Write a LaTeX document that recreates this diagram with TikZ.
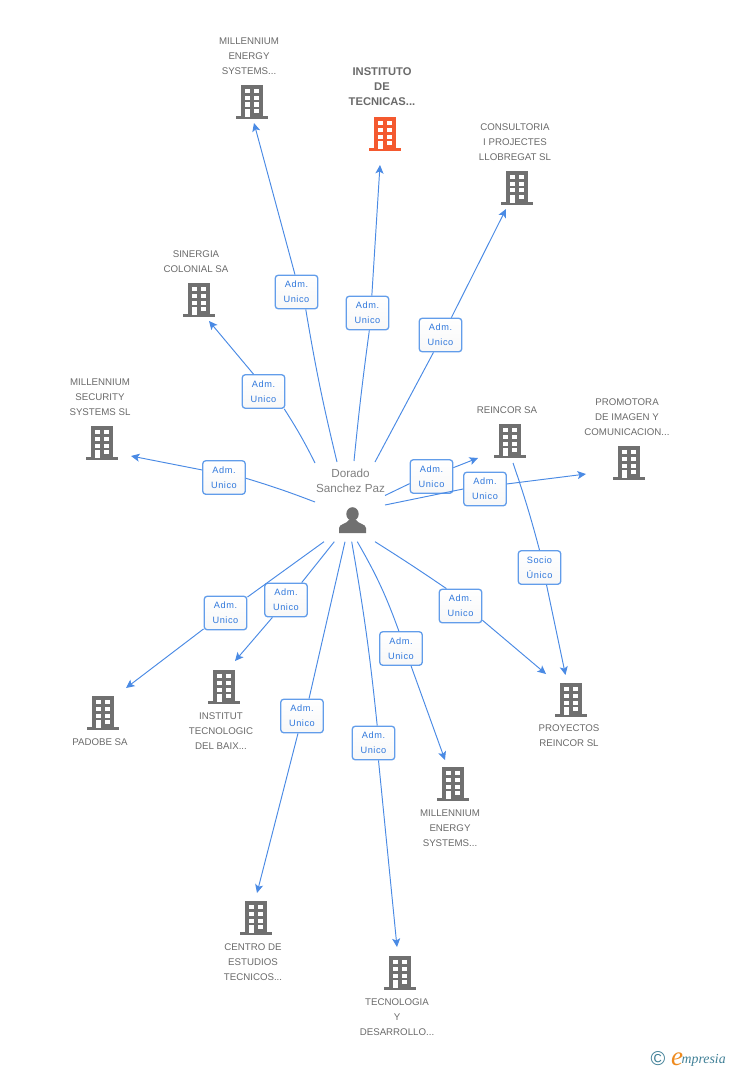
\documentclass[tikz,border=0pt]{standalone}
\usepackage{fontspec}
\setmainfont{Liberation Sans}
\newfontfamily\logofont{Liberation Serif}
\usetikzlibrary{arrows.meta}
\definecolor{linkblue}{HTML}{4A8AE4}
\definecolor{boxblue}{HTML}{629DEA}
\definecolor{textblue}{HTML}{3078DC}
\definecolor{icongray}{HTML}{707070}
\definecolor{icontarget}{HTML}{F4592F}
\definecolor{namegray}{HTML}{6A6A6A}
\definecolor{logoteal}{HTML}{3F7F96}
\definecolor{logoorange}{HTML}{EE8A1E}
\tikzset{
  link/.style={linkblue,line width=0.95pt},
  linkto/.style={link,-{Stealth[length=8.5pt,width=8pt,inset=2pt]}},
  admbox/.style={draw=boxblue,line width=1.3pt,rounded corners=3pt,top color=white,bottom color=gray!6,
    minimum width=42.5pt,minimum height=33.5pt,inner sep=0pt,align=center,text=textblue,
    font={\fontsize{9.2}{15}\selectfont\addfontfeature{LetterSpace=6}}},
  companyname/.style={align=center,text=namegray,font={\fontsize{9.7}{15}\selectfont}},
  personname/.style={align=center,text=gray,font={\fontsize{11.7}{15}\selectfont}},
  pics/building/.style={code={
    \fill[#1] (-11,-17) rectangle (11,17);
    \fill[#1] (-16,14) rectangle (16,17);
    \foreach \yy in {-13,-6,0.5}{
      \fill[white] (-7.2,\yy) rectangle (-2.2,\yy+4.3);
      \fill[white] (2.2,\yy) rectangle (7.2,\yy+4.3);
    }
    \fill[white] (-7.2,7) rectangle (-2.2,15);
    \fill[white] (2.2,7) rectangle (7.2,11.3);
  }},
  pics/person/.style={code={
    \fill[icongray] (0,-7) circle (6.2 and 6.8);
    \fill[icongray] (-13.5,12) -- (-13.5,7) .. controls (-13.5,3) and (-6,3) .. (-3.5,-1)
      -- (3.5,-1) .. controls (6,3) and (13.5,3) .. (13.5,7) -- (13.5,12) -- cycle;
  }}
}

\begin{document}
\begin{tikzpicture}[x=1pt,y=-1pt]
\useasboundingbox (0,0) rectangle (728,1070);

% Person in the centre
\pic (person) at (352.5,521) {person};
\node[personname] (dorado) at (350.5,480.5) {Dorado\\Sanchez Paz};

% Companies
\pic (bldMillTop) at (252,102) {building=icongray};
\node[companyname] (millTop) at (249,56) {MILLENNIUM\\ENERGY\\SYSTEMS...};

\pic (bldInstituto) at (385,134) {building=icontarget};
\node[companyname,font={\fontsize{11.2}{15}\selectfont\bfseries}] (instituto) at (382,87) {INSTITUTO\\DE\\TECNICAS...};

\pic (bldConsultoria) at (517,187.5) {building=icongray};
\node[companyname] (consultoria) at (515,142) {CONSULTORIA\\I PROJECTES\\LLOBREGAT SL};

\pic (bldSinergia) at (199,300) {building=icongray};
\node[companyname] (sinergia) at (196,261.5) {SINERGIA\\COLONIAL SA};

\pic (bldMillSec) at (102,443) {building=icongray};
\node[companyname] (millSec) at (100,397) {MILLENNIUM\\SECURITY\\SYSTEMS SL};

\pic (bldReincor) at (510,441) {building=icongray};
\node[companyname] (reincor) at (507,410) {REINCOR SA};

\pic (bldPromotora) at (629,463) {building=icongray};
\node[companyname] (promotora) at (627,417) {PROMOTORA\\DE IMAGEN Y\\COMUNICACION...};

\pic (bldPadobe) at (103,713) {building=icongray};
\node[companyname] (padobe) at (100,742) {PADOBE SA};

\pic (bldInstitut) at (224,687) {building=icongray};
\node[companyname] (institut) at (221,731) {INSTITUT\\TECNOLOGIC\\DEL BAIX...};

\pic (bldProyectos) at (571,700) {building=icongray};
\node[companyname] (proyectos) at (569,736) {PROYECTOS\\REINCOR SL};

\pic (bldMillBot) at (453,784) {building=icongray};
\node[companyname] (millBot) at (450,828) {MILLENNIUM\\ENERGY\\SYSTEMS...};

\pic (bldCentro) at (256,918) {building=icongray};
\node[companyname] (centro) at (253,962) {CENTRO DE\\ESTUDIOS\\TECNICOS...};

\pic (bldTecnologia) at (400,973) {building=icongray};
\node[companyname] (tecnologia) at (397,1017) {TECNOLOGIA\\Y\\DESARROLLO...};

% Role boxes
\node[admbox] (admMillTop) at (296.5,292) {Adm.\\Unico};
\node[admbox] (admInstituto) at (367.5,313) {Adm.\\Unico};
\node[admbox] (admConsultoria) at (440.5,335) {Adm.\\Unico};
\node[admbox] (admSinergia) at (263.5,391.5) {Adm.\\Unico};
\node[admbox] (admMillSec) at (224,477.5) {Adm.\\Unico};
\node[admbox] (admReincor) at (431.5,476.5) {Adm.\\Unico};
\node[admbox] (admPromotora) at (485,489) {Adm.\\Unico};
\node[admbox] (admPadobe) at (225.5,613) {Adm.\\Unico};
\node[admbox] (admInstitut) at (286,600) {Adm.\\Unico};
\node[admbox] (admCentro) at (302,716) {Adm.\\Unico};
\node[admbox] (admTecnologia) at (373.5,743) {Adm.\\Unico};
\node[admbox] (admMillBot) at (401,648.5) {Adm.\\Unico};
\node[admbox] (admProyectos) at (460.5,606) {Adm.\\Unico};
\node[admbox] (socioReincor) at (539.5,567.5) {Socio\\Único};

% Start and end points of the links
\coordinate (fromMillTop) at (337,462);
\coordinate (toMillTop) at (254,123);
\coordinate (fromInstituto) at (354,461);
\coordinate (toInstituto) at (380,165);
\coordinate (fromConsultoria) at (375,462);
\coordinate (toConsultoria) at (506,209);
\coordinate (fromSinergia) at (315,463);
\coordinate (toSinergia) at (209,321);
\coordinate (fromMillSec) at (315,502);
\coordinate (toMillSec) at (131,456);
\coordinate (fromReincor) at (385,495.5);
\coordinate (toReincor) at (478,458);
\coordinate (fromPromotora) at (385,505);
\coordinate (toPromotora) at (586,474);
\coordinate (fromPadobe) at (324,541.7);
\coordinate (toPadobe) at (126,688);
\coordinate (fromInstitut) at (334.3,541.7);
\coordinate (toInstitut) at (235,661);
\coordinate (fromCentro) at (345,541.7);
\coordinate (toCentro) at (257,893);
\coordinate (fromTecnologia) at (351.7,541.7);
\coordinate (toTecnologia) at (397,947);
\coordinate (fromMillBot) at (357.3,541.7);
\coordinate (toMillBot) at (445,760);
\coordinate (fromProyectos) at (375,541.7);
\coordinate (toProyectos) at (546,674);
\coordinate (fromSocio) at (513,463);
\coordinate (toSocio) at (565.5,675);

% Links
\draw[link] (fromMillTop) to[bend left=2] (admMillTop.-62);
\draw[linkto] (admMillTop.95) to (toMillTop);
\draw[link] (fromInstituto) to[bend left=1] (admInstituto.-84);
\draw[linkto] (admInstituto.76) to (toInstituto);
\draw[link] (fromConsultoria) to (admConsultoria.-112);
\draw[linkto] (admConsultoria.58) to (toConsultoria);
\draw[link] (fromSinergia) to[bend right=3] (admSinergia.-40);
\draw[linkto] (admSinergia.120) to (toSinergia);
\draw[link] (fromMillSec) to[bend right=2] (admMillSec.-2);
\draw[linkto] (admMillSec.161) to (toMillSec);
\draw[link] (fromReincor) to (admReincor.198);
\draw[linkto] (admReincor.22) to (toReincor);
\draw[link] (fromPromotora) to (admPromotora.180);
\draw[linkto] (admPromotora.13) to (toPromotora);
\draw[link] (fromPadobe) to (admPadobe.36);
\draw[linkto] (admPadobe.216) to (toPadobe);
\draw[link] (fromInstitut) to (admInstitut.48);
\draw[linkto] (admInstitut.232) to (toInstitut);
\draw[link] (fromCentro) to (admCentro.68);
\draw[linkto] (admCentro.257) to (toCentro);
\draw[link] (fromTecnologia) to[bend left=2] (admTecnologia.78);
\draw[linkto] (admTecnologia.286) to (toTecnologia);
\draw[link] (fromMillBot) to[bend left=5] (admMillBot.97);
\draw[linkto] (admMillBot.300) to (toMillBot);
\draw[link] (fromProyectos) to[bend left=1] (admProyectos.129);
\draw[linkto] (admProyectos.327) to (toProyectos);
\draw[link] (fromSocio) to[bend left=2] (socioReincor.90);
\draw[linkto] (socioReincor.292) to (toSocio);

% Logo
\node[text=logoteal,inner sep=0pt,font={\fontsize{20}{20}\selectfont}] (logoC) at (658,1059) {©};
\node[text=logoorange,inner sep=0pt,font={\logofont\itshape\fontsize{27}{27}\selectfont}] (logoE) at (677,1059) {e};
\node[text=logoteal,inner sep=0pt,anchor=west,font={\logofont\itshape\fontsize{13.8}{13.8}\selectfont}] (logoName) at (681.5,1060) {mpresia};

\end{tikzpicture}
\end{document}
